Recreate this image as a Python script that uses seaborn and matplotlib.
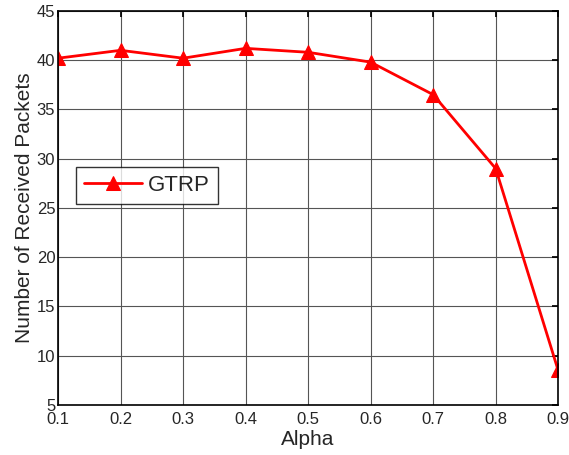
import pandas as pd
import matplotlib.pyplot as plt
import seaborn as sns

sns.set_theme(style="whitegrid")
plt.rcParams['font.family'] = ['Liberation Sans', 'DejaVu Sans']

alpha = [0.1, 0.2, 0.3, 0.4, 0.5, 0.6, 0.7, 0.8, 0.9]
received = [40.2, 41.0, 40.2, 41.2, 40.8, 39.8, 36.5, 29.0, 8.5]
df = pd.DataFrame({'Alpha': alpha, 'Received': received})

fig = plt.figure(figsize=(5.69, 4.55), dpi=100)
ax = fig.add_axes([0.102, 0.110, 0.879, 0.866])

sns.lineplot(data=df, x='Alpha', y='Received', color='red', marker='^',
             markersize=10, markeredgecolor='red', linewidth=2, label='GTRP', ax=ax)

ax.set_xlim(0.1, 0.9)
ax.set_ylim(5, 45)
ax.set_xticks(alpha)
ax.set_xticklabels([str(a) for a in alpha])
ax.set_yticks(range(5, 50, 5))
ax.set_xlabel('Alpha', fontsize=15, labelpad=2)
ax.set_ylabel('Number of Received Packets', fontsize=15, labelpad=2)
ax.tick_params(axis='both', labelsize=12, direction='in', length=4,
               top=True, right=True, color='black', pad=2)
ax.tick_params(axis='x', pad=5)
ax.grid(True, color='#555555', linewidth=0.8)
ax.set_facecolor('white')
for s in ax.spines.values():
    s.set_color('black')
    s.set_linewidth(1.2)

leg = ax.legend(loc='upper left', bbox_to_anchor=(0.036, 0.604), fontsize=16,
                frameon=True, fancybox=False, edgecolor='black', handlelength=2.6,
                borderpad=0.35, handletextpad=0.3, borderaxespad=0)
leg.get_frame().set_linewidth(1.0)

fig.savefig('out.png', dpi=100)
